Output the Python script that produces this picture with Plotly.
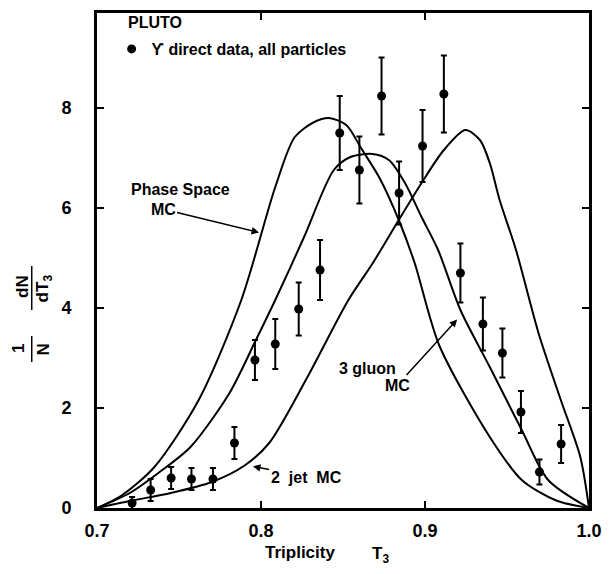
import plotly.graph_objects as go

# ---- data ----
data_x = [0.7214, 0.7327, 0.7452, 0.7576, 0.7707, 0.7838, 0.7963, 0.8087, 0.823, 0.836,
          0.848, 0.860, 0.8735, 0.8842, 0.8985, 0.9115, 0.9216, 0.9353, 0.9472, 0.9585,
          0.9698, 0.983]
data_y = [0.10, 0.36, 0.60, 0.58, 0.58, 1.30, 2.96, 3.28, 3.98, 4.76,
          7.50, 6.76, 8.24, 6.30, 7.24, 8.28, 4.70, 3.68, 3.10, 1.92,
          0.72, 1.28]
data_err = [0.12, 0.22, 0.22, 0.22, 0.22, 0.32, 0.40, 0.50, 0.53, 0.60,
            0.74, 0.67, 0.77, 0.63, 0.72, 0.77, 0.59, 0.53, 0.49, 0.42,
            0.25, 0.38]

phase_x = [0.70, 0.715, 0.735, 0.762, 0.788, 0.8087, 0.8206, 0.8325, 0.8414, 0.852,
           0.861, 0.8723, 0.884, 0.8937, 0.9086, 0.9395, 0.959, 0.98, 1.0]
phase_y = [0.0, 0.25, 0.82, 2.16, 4.16, 6.42, 7.42, 7.72, 7.80, 7.66,
           7.20, 6.60, 5.76, 4.90, 3.26, 1.42, 0.56, 0.15, 0.0]

gluon_x = [0.70, 0.72, 0.7374, 0.757, 0.7808, 0.7969, 0.8087, 0.826, 0.8444, 0.8545,
           0.868, 0.878, 0.8878, 0.8979, 0.908, 0.9216, 0.9395, 0.959, 0.9751, 1.0]
gluon_y = [0.0, 0.30, 0.70, 1.22, 2.30, 3.36, 4.16, 5.40, 6.76, 7.02,
           7.08, 6.96, 6.50, 5.82, 5.16, 3.96, 2.82, 1.56, 0.56, 0.0]

jet_x = [0.70, 0.72, 0.745, 0.77, 0.79, 0.805, 0.828, 0.8533, 0.8682, 0.884,
         0.8979, 0.9115, 0.9246, 0.9335, 0.9395, 0.9455, 0.9555, 0.9692, 0.9828, 0.9947, 1.0]
jet_y = [0.0, 0.14, 0.30, 0.52, 0.85, 1.30, 2.60, 4.16, 4.90, 5.76,
         6.50, 7.16, 7.56, 7.36, 6.90, 6.16, 5.16, 3.50, 2.16, 1.02, 0.0]

x_ticks = [0.7, 0.8, 0.9, 1.0]
x_ticktext = ["0.7", "0.8", "0.9", "1.0"]
y_ticks = [0, 2, 4, 6, 8]
y_ticktext = ["0", "2", "4", "6", "8"]

FONT = "Liberation Sans, Arial, sans-serif"

fig = go.Figure()
for cx, cy, nm in [(phase_x, phase_y, "Phase Space MC"),
                   (gluon_x, gluon_y, "3 gluon MC"),
                   (jet_x, jet_y, "2 jet MC")]:
    fig.add_trace(go.Scatter(x=cx, y=cy, mode="lines", name=nm, showlegend=False,
                             line=dict(color="black", width=2, shape="spline", smoothing=0.8)))

fig.add_trace(go.Scatter(
    x=data_x, y=data_y, mode="markers", name="ϒ direct data, all particles",
    marker=dict(color="black", size=9, symbol="circle"),
    error_y=dict(type="data", array=data_err, color="black", thickness=2, width=3),
    showlegend=True))

W, H = 612, 574
L, R, T, B = 97, 10, 13, 66
pw, ph = W - L - R, H - T - B

def px(xp):
    return (xp - L) / pw

def py(yp):
    return (H - B - yp) / ph

fig.update_layout(
    width=W, height=H,
    margin=dict(l=L, r=R, t=T, b=B),
    paper_bgcolor="white", plot_bgcolor="white",
    font=dict(family=FONT, size=16, color="black", weight="bold"),
    showlegend=True,
    legend=dict(x=px(112), y=py(32), xanchor="left", yanchor="top",
                bgcolor="rgba(0,0,0,0)", borderwidth=0,
                font=dict(size=16, weight="bold"), itemwidth=30, tracegroupgap=0),
    xaxis=dict(range=[0.7, 1.0], tickvals=x_ticks, ticktext=x_ticktext,
               showline=True, linewidth=3, linecolor="black", mirror="ticks",
               ticks="inside", ticklen=7, tickwidth=1.5, tickcolor="black",
               showgrid=False, zeroline=False, ticklabelstandoff=4,
               tickfont=dict(size=18, weight="bold")),
    yaxis=dict(range=[0, 9.9], tickvals=y_ticks, ticktext=y_ticktext,
               showline=True, linewidth=3, linecolor="black", mirror="ticks",
               ticks="inside", ticklen=7, tickwidth=1.5, tickcolor="black",
               showgrid=False, zeroline=False, ticklabelstandoff=19,
               tickfont=dict(size=18, weight="bold")),
)

ann = []
def txt(xp, yp, text, size=16, angle=0, anchor="center"):
    ann.append(dict(x=px(xp), y=py(yp), xref="paper", yref="paper", text=text,
                    textangle=angle, showarrow=False, xanchor=anchor, yanchor="middle",
                    font=dict(size=size, weight="bold")))

def arrow_txt(xd, yd, text, ax, ay, size=16):
    ann.append(dict(x=xd, y=yd, xref="x", yref="y", text=text, showarrow=True,
                    arrowhead=2, arrowsize=1, arrowwidth=1.5, arrowcolor="black",
                    ax=ax, ay=ay, standoff=2, font=dict(size=size, weight="bold")))

txt(127, 22, "PLUTO", size=16, anchor="left")
# curve labels
txt(183, 190, "Phase Space")
arrow_txt(0.800, 5.5, "MC", ax=-98, ay=-24)
txt(375, 368, "3 gluon")
arrow_txt(0.9204, 3.8, "MC", ax=-61, ay=67)
arrow_txt(0.7939, 0.84, "2  jet  MC", ax=55, ay=11)
# x-axis title
txt(305, 552, "Triplicity", size=17)
txt(388, 555, "T<sub>3</sub>", size=17)
# y-axis label: (1/N) dN/dT3, rotated
txt(20, 286, "dN", size=17, angle=-90)
txt(43, 288, "dT<sub>3</sub>", size=17, angle=-90)
txt(17, 349, "1", size=17, angle=-90)
txt(43, 349, "N", size=17, angle=-90)
fig.update_layout(annotations=ann)

fig.add_shape(type="line", xref="paper", yref="paper", x0=px(30), x1=px(30),
              y0=py(266), y1=py(310), line=dict(color="black", width=1.5))
fig.add_shape(type="line", xref="paper", yref="paper", x0=px(30), x1=px(30),
              y0=py(336), y1=py(362), line=dict(color="black", width=1.5))

fig.write_html("out.html")
